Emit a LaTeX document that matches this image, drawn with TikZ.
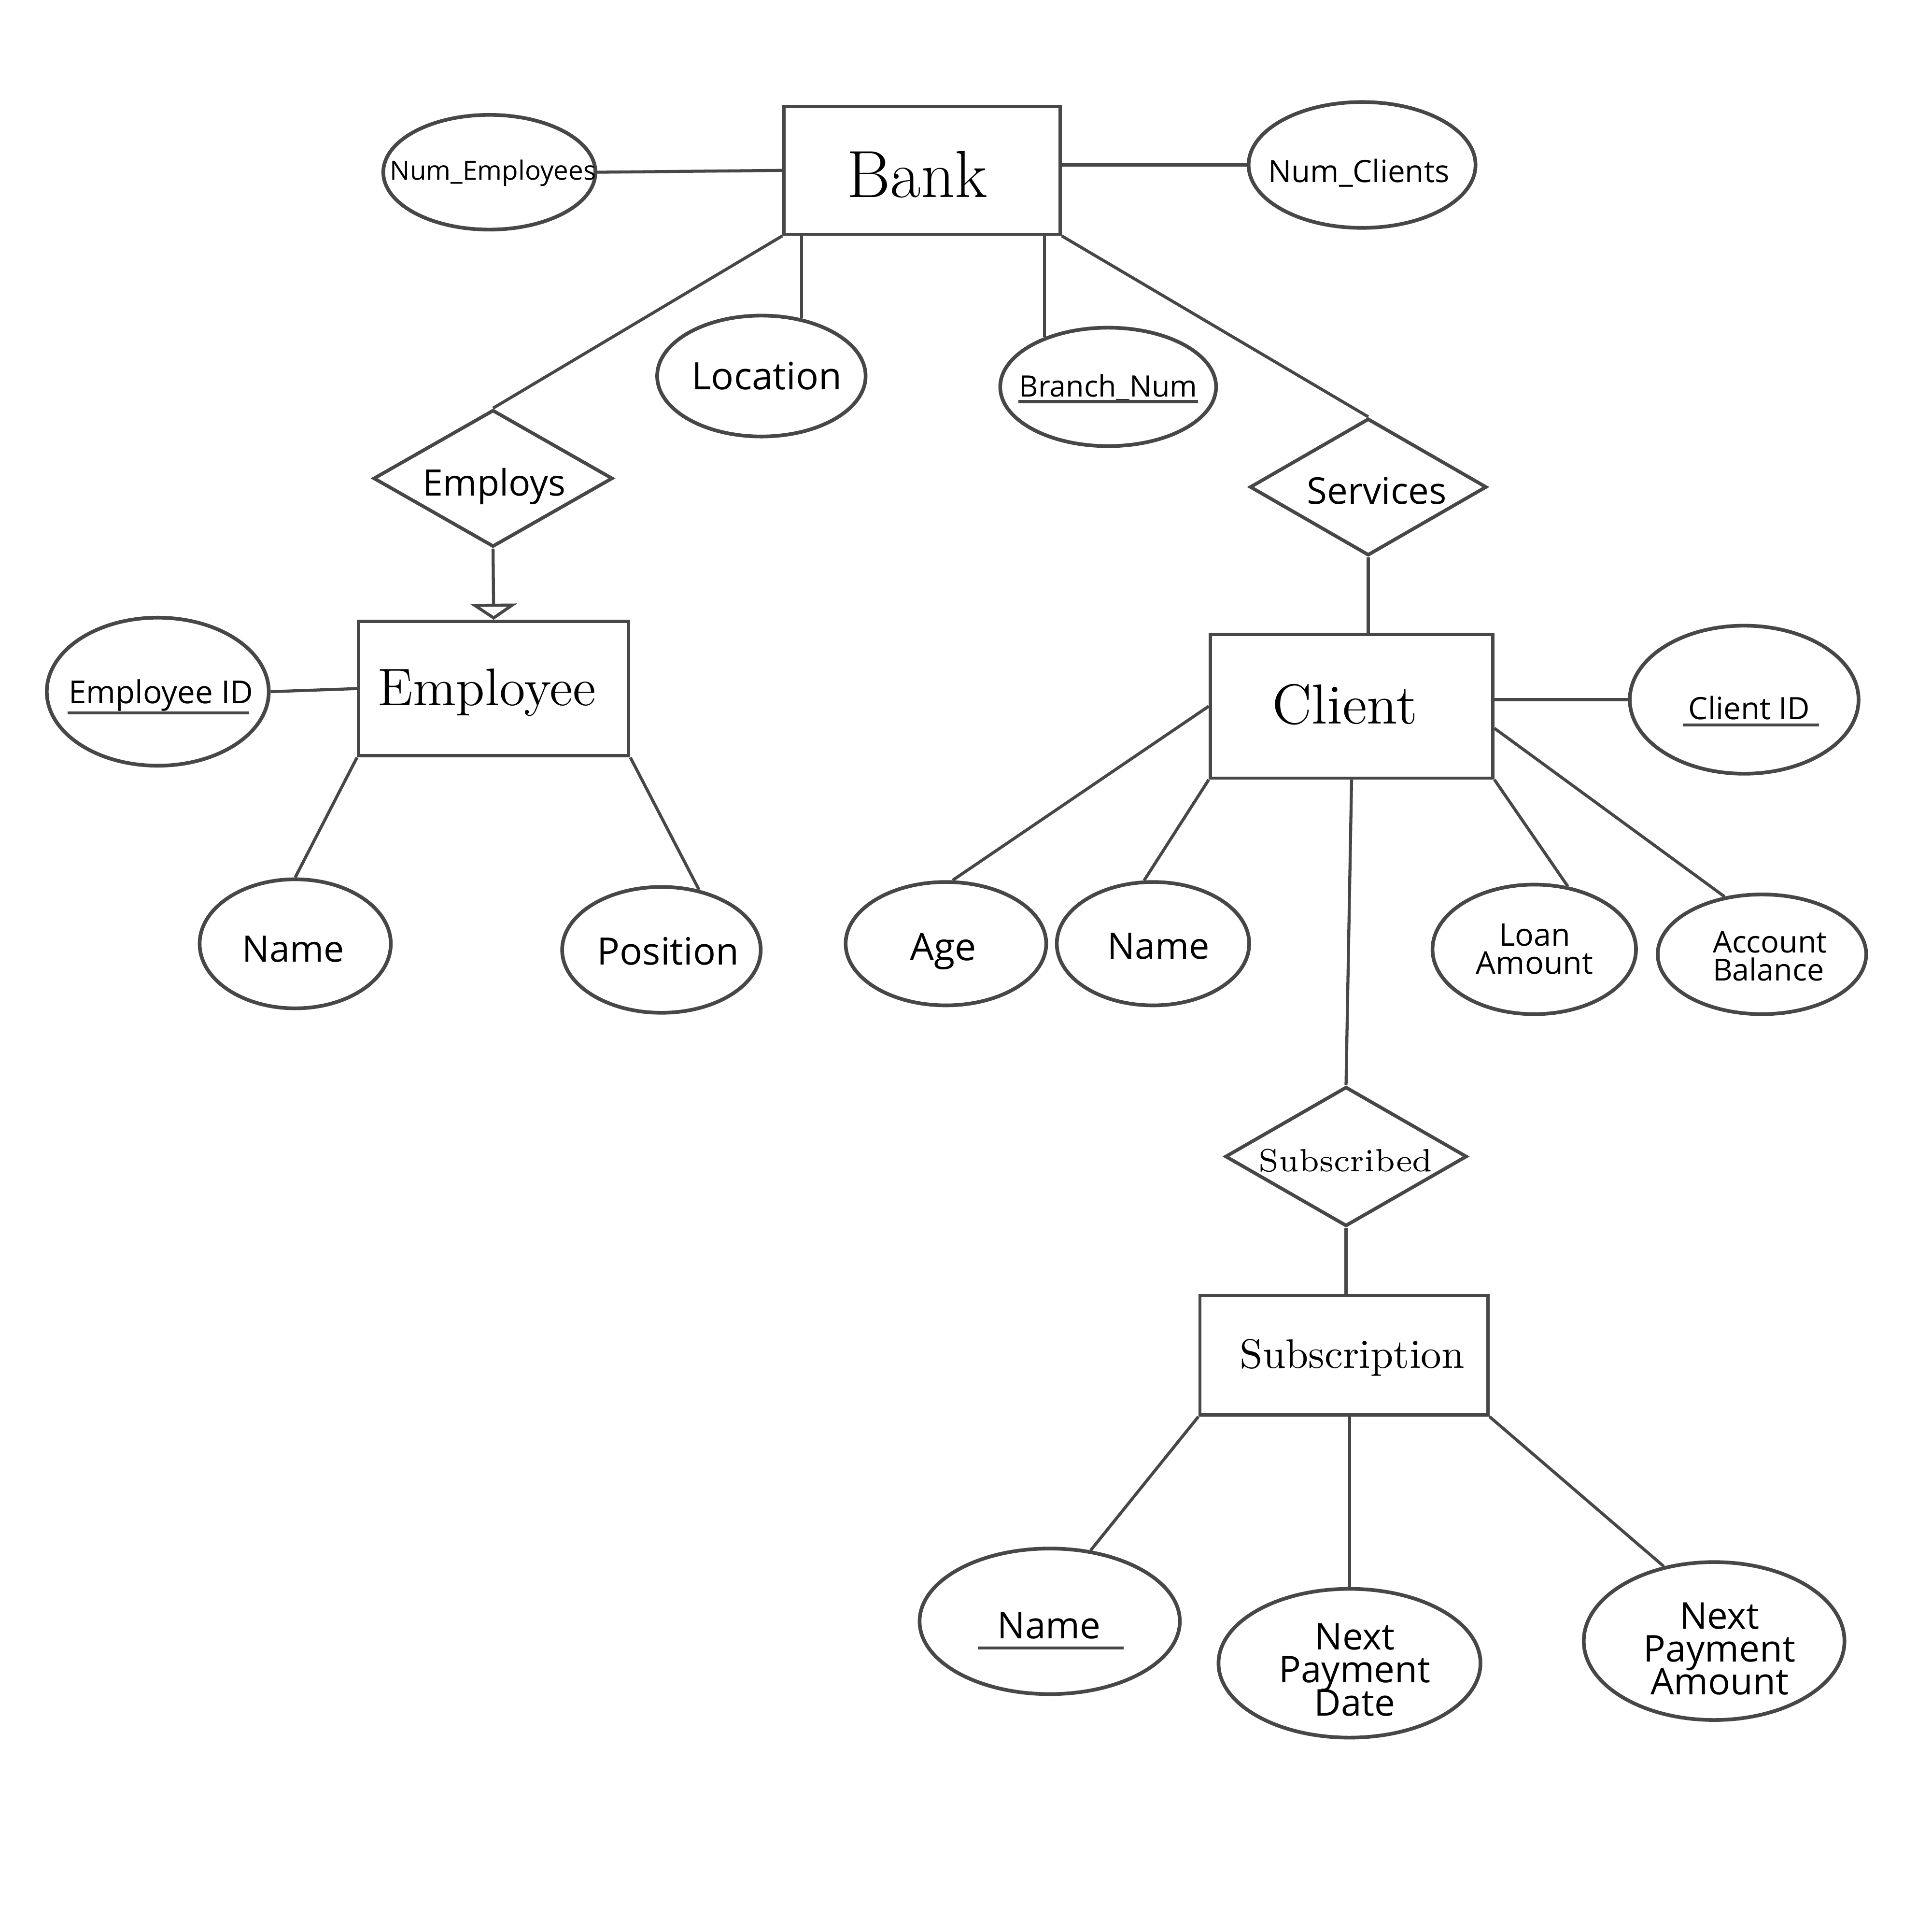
\documentclass[tikz,border=0pt]{standalone}
\usepackage{fontspec}
\newfontfamily\osans{Open Sans}
\usetikzlibrary{shapes.geometric,arrows.meta,calc}
\definecolor{lc}{HTML}{474747}
\newcommand\tightlines{\lineskiplimit=-100pt\relax}
\begin{document}
\begin{tikzpicture}[x=0.01cm,y=-0.01cm,
  ln/.style={draw=lc,line width=0.7pt},
  ent/.style={rectangle,draw=lc,line width=0.75pt,inner sep=0pt},
  attr/.style={ellipse,draw=lc,line width=0.85pt,inner sep=0pt},
  rel/.style={diamond,draw=lc,line width=0.8pt,inner sep=0pt},
  ss/.style 2 args={font=\osans\fontsize{#1}{#2}\selectfont\tightlines,inner sep=0pt,align=center,anchor=base},
  rm/.style={font=\fontsize{#1}{#1}\selectfont,inner sep=0pt,anchor=base},
]
\fill[white] (0,0) rectangle (1567,1567);
\useasboundingbox (0,0) rectangle (1567,1567);

% entities
\node[ent,minimum width=2.24cm,minimum height=1.036cm] (bank) at (748,138.2) {};
\node[ent,minimum width=2.19cm,minimum height=1.09cm] (employee) at (400.5,558.5) {};
\node[ent,minimum width=2.29cm,minimum height=1.165cm] (client) at (1096.5,572.8) {};
\node[ent,minimum width=2.335cm,minimum height=0.97cm] (subscription) at (1090.3,1099.2) {};

% relationships
\node[rel,minimum width=1.94cm,minimum height=1.11cm] (employs) at (400,388) {};
\node[rel,minimum width=1.92cm,minimum height=1.11cm] (services) at (1110,395) {};
\node[rel,minimum width=1.96cm,minimum height=1.13cm] (subscribed) at (1092,938) {};

% attributes
\node[attr,minimum width=1.72cm,minimum height=0.93cm] (numemp) at (397,139.7) {};
\node[attr,minimum width=1.84cm,minimum height=1.02cm] (numcli) at (1105,133.8) {};
\node[attr,minimum width=1.69cm,minimum height=0.98cm] (loc) at (617.7,305) {};
\node[attr,minimum width=1.75cm,minimum height=0.96cm] (bn) at (899,313.8) {};
\node[attr,minimum width=1.80cm,minimum height=1.20cm] (eid) at (128,561) {};
\node[attr,minimum width=1.55cm,minimum height=1.046cm] (ename) at (239.5,765.5) {};
\node[attr,minimum width=1.61cm,minimum height=1.02cm] (pos) at (536.6,770.4) {};
\node[attr,minimum width=1.855cm,minimum height=1.20cm] (cid) at (1415,567.5) {};
\node[attr,minimum width=1.626cm,minimum height=1.00cm] (age) at (767.4,765.4) {};
\node[attr,minimum width=1.56cm,minimum height=1.00cm] (cname) at (935.4,765.4) {};
\node[attr,minimum width=1.65cm,minimum height=1.05cm] (loan) at (1244.7,770) {};
\node[attr,minimum width=1.69cm,minimum height=0.97cm] (acc) at (1429.4,774) {};
\node[attr,minimum width=2.11cm,minimum height=1.18cm] (sname) at (851.6,1315) {};
\node[attr,minimum width=2.124cm,minimum height=1.206cm] (npd) at (1094.8,1349) {};
\node[attr,minimum width=2.114cm,minimum height=1.28cm] (npa) at (1390.6,1331) {};

% texts
\node[rm=15.4] (bankt) at (744,160) {Bank};
\node[rm=12.2] (employeet) at (395,572) {Employee};
\node[rm=13] (clientt) at (1091,587) {Client};
\node[rm=9.5] (subscriptiont) at (1097,1109.5) {Subscription};
\node[rm=7.4] (subscribedt) at (1091.6,950) {Subscribed};

\node[ss={6.1}{7}] (numempt) at (400,146) {Num\_Employees};
\node[ss={7.1}{8}] (numclit) at (1102.5,148) {Num\_Clients};
\node[ss={8.7}{9}] (loct) at (622,316) {Location};
\node[ss={6.8}{8}] (bnt) at (899,321.7) {Branch\_Num};
\node[ss={8.4}{9}] (employst) at (401,402) {Employs};
\node[ss={8.5}{9}] (servicest) at (1117,408.7) {Services};
\node[ss={7.3}{8}] (eidt) at (130.5,570.6) {Employee ID};
\node[ss={8.4}{9}] (enamet) at (238,780) {Name};
\node[ss={8.7}{9}] (post) at (542,782.5) {Position};
\node[ss={7.1}{8}] (cidt) at (1419,583.5) {Client ID};
\node[ss={8.8}{9}] (aget) at (765,779) {Age};
\node[ss={8.4}{9}] (cnamet) at (940,778) {Name};
\node[ss={7.2}{6.5}] (loant) at (1245,790) {Loan\\Amount};
\node[ss={7.0}{6.5},align=left] (acct) at (1436,795.5) {Account\\Balance};
\node[ss={8.5}{9}] (snamet) at (851,1329) {Name};
\node[ss={8.5}{7.6}] (npdt) at (1099,1391.5) {Next\\Payment\\Date};
\node[ss={8.5}{7.6}] (npat) at (1395,1374.6) {Next\\Payment\\Amount};

% underlines of key attributes
\draw[ln] ($(bnt.base west)+(0,4)$) -- ($(bnt.base east)+(0,4)$);
\draw[ln] ($(eidt.base west)+(0,7.5)$) -- ($(eidt.base east)+(-4,7.5)$);
\draw[ln] ($(cidt.base west)+(-4,4.5)$) -- ($(cidt.base east)+(7,4.5)$);
\draw[ln] ($(snamet.base west)+(-15,7.5)$) -- ($(snamet.base east)+(18,7.5)$);

% connectors
\draw[ln] (numemp.east) -- (bank.west);
\draw[ln] (numcli.west -| bank.east) -- (numcli.west);
\draw[ln] (loc.55) -- (loc.55 |- bank.south);
\draw[ln] (bn.142) -- (bn.142 |- bank.south);
\draw[ln] (bank.south west) -- (employs.north);
\draw[ln] (bank.south east) -- (services.north);
\draw[ln,-{Triangle[open,length=0.13cm,width=0.38cm]}] (employs.south) -- (employee.north);
\draw[ln] (eid.east) -- (employee.west);
\draw[ln] (ename.north) -- (employee.south west);
\draw[ln] (pos.58) -- (employee.south east);
\draw[ln] (services.south) -- (services.south |- client.north);
\draw[ln] (cid.west -| client.east) -- (cid.west);
\draw[ln] (client.west) -- (age.84);
\draw[ln] (client.south west) -- (cname.98);
\draw[ln] (client.south east) -- (loan.62);
\draw[ln] ($(client.south east)!0.35!(client.north east)$) -- (acc.123);
\draw[ln] (client.south) -- (subscribed.north);
\draw[ln] (subscribed.south) -- (subscribed.south |- subscription.north);
\draw[ln] (subscription.south west) -- (sname.60);
\draw[ln] (subscription.south -| npd.north) -- (npd.north);
\draw[ln] (subscription.south east) -- (npa.124);
\end{tikzpicture}
\end{document}
